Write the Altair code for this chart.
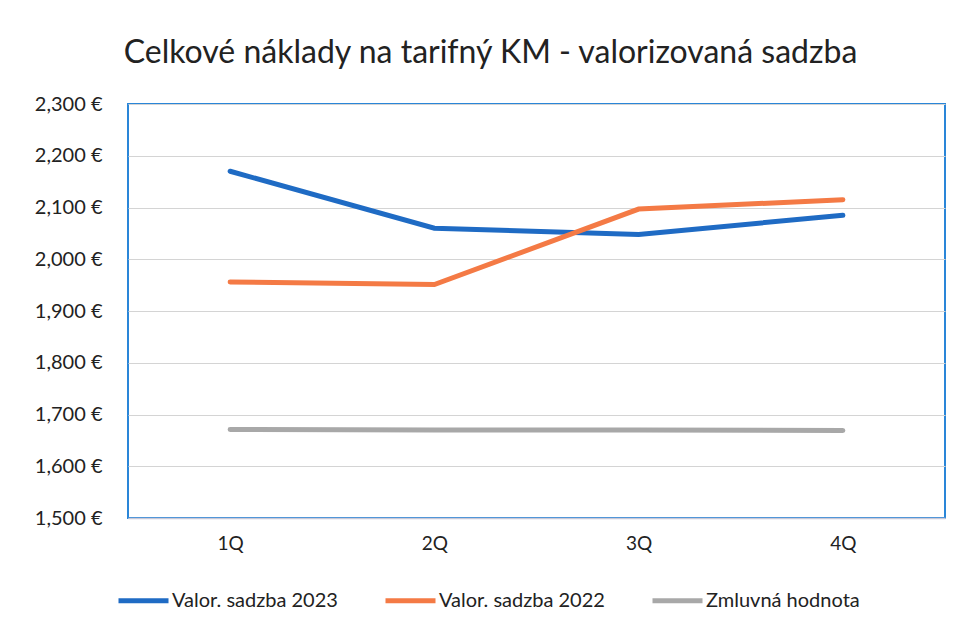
import altair as alt
import pandas as pd

quarters = ["1Q", "2Q", "3Q", "4Q"]
series_names = ["Valor. sadzba 2023", "Valor. sadzba 2022", "Zmluvná hodnota"]
valor_2023 = [2170, 2060, 2048, 2085]
valor_2022 = [1956, 1951, 2097, 2115]
zmluvna = [1671, 1670, 1670, 1669]
colors = ["#1f6bc4", "#f47a45", "#a8a8a8"]

rows = []
for name, vals in zip(series_names, [valor_2023, valor_2022, zmluvna]):
    for q, v in zip(quarters, vals):
        rows.append({"Štvrťrok": q, "Hodnota": v, "Séria": name})
df = pd.DataFrame(rows)

FONT = "Lato"

chart = alt.Chart(df).mark_line(strokeWidth=5, strokeCap="round").encode(
    x=alt.X("Štvrťrok:N", sort=quarters, title=None,
            scale=alt.Scale(paddingInner=0, paddingOuter=0.5),
            axis=alt.Axis(labelAngle=0, labelFontSize=19, labelFont=FONT, labelColor="#222",
                          labelPadding=16, ticks=False, domain=True, domainColor="#c8c8d8",
                          domainWidth=1.5, grid=False)),
    y=alt.Y("Hodnota:Q", title=None,
            scale=alt.Scale(domain=[1500, 2300], nice=False, zero=False),
            axis=alt.Axis(values=list(range(1500, 2301, 100)), ticks=False, domain=False,
                          labelExpr="format(datum.value, ',') + ' €'",
                          labelFontSize=20, labelFont=FONT, labelColor="#222", labelPadding=26,
                          gridColor="#d4d4d4", gridWidth=1)),
    color=alt.Color("Séria:N", sort=series_names,
                    scale=alt.Scale(domain=series_names, range=colors),
                    legend=alt.Legend(title=None, orient="none", direction="horizontal",
                                      legendX=-12, legendY=469,
                                      symbolType="stroke", symbolSize=2500, symbolStrokeWidth=5,
                                      labelFontSize=20, labelFont=FONT, labelColor="#222",
                                      labelLimit=400, labelOffset=1, columnPadding=37)),
).properties(
    width=817,
    height=414,
    title=alt.TitleParams("Celkové náklady na tarifný KM - valorizovaná sadzba",
                          fontSize=32, font=FONT, fontWeight="normal", color="#222",
                          anchor="middle", dx=-46, offset=24),
    autosize=alt.AutoSizeParams(type="none"),
    padding={"left": 120, "top": 96, "right": 5, "bottom": 100},
).configure_view(
    stroke="#2a86d8", strokeWidth=2
)

chart.save("out.html", embed_options={"renderer": "svg", "actions": False})
